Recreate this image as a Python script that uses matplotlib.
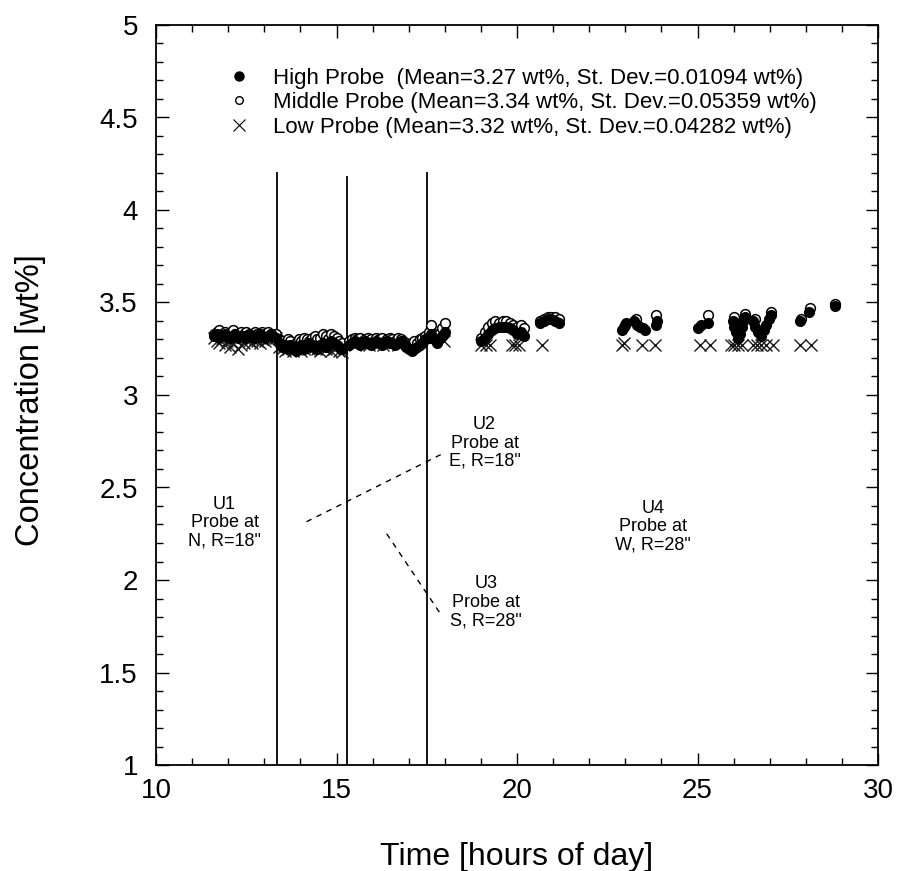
import matplotlib
matplotlib.use("Agg")
import matplotlib.pyplot as plt
from matplotlib.ticker import MultipleLocator
from matplotlib.lines import Line2D

plt.rcParams['font.family'] = ['Liberation Sans', 'DejaVu Sans']

# ---------------- data ----------------
high_t = [11.60, 11.68, 11.75, 11.83, 11.90, 11.98, 12.05, 12.13, 12.20, 12.28, 12.35, 12.43,
          12.50, 12.58, 12.65, 12.73, 12.80, 12.88, 12.95, 13.03, 13.10, 13.18, 13.25, 13.32,
          13.42, 13.50, 13.57, 13.65, 13.72, 13.80, 13.87, 13.95, 14.02, 14.10, 14.17, 14.25,
          14.32, 14.40, 14.47, 14.55, 14.62, 14.70, 14.77, 14.85, 14.92, 15.00, 15.07, 15.15,
          15.35, 15.43, 15.50, 15.58, 15.65, 15.73, 15.80, 15.88, 15.95, 16.03, 16.10, 16.18,
          16.25, 16.33, 16.40, 16.48, 16.55, 16.63, 16.70, 16.78, 16.85, 16.93, 17.00, 17.08,
          17.15, 17.23, 17.30, 17.38, 17.45,
          17.55, 17.62, 17.70, 17.78, 17.85, 17.92, 18.00,
          19.00, 19.10, 19.20, 19.30, 19.40, 19.50, 19.60, 19.70, 19.80, 19.90, 20.00, 20.10, 20.20,
          20.65, 20.75, 20.85, 20.95, 21.05, 21.15,
          22.90, 22.97, 23.03, 23.25, 23.32, 23.40, 23.48, 23.55, 23.85, 23.88,
          25.02, 25.10, 25.30,
          25.97, 26.02, 26.07, 26.12, 26.17, 26.22, 26.27, 26.32,
          26.55, 26.60, 26.67, 26.75, 26.83, 26.90, 26.97, 27.03,
          27.85, 28.10, 28.80]
high_v = [3.32, 3.33, 3.31, 3.32, 3.33, 3.32, 3.31, 3.32, 3.33, 3.31, 3.32, 3.32,
          3.31, 3.33, 3.32, 3.31, 3.32, 3.33, 3.32, 3.31, 3.32, 3.33, 3.32, 3.31,
          3.28, 3.26, 3.27, 3.25, 3.27, 3.26, 3.24, 3.26, 3.27, 3.25, 3.26, 3.28,
          3.27, 3.26, 3.25, 3.27, 3.28, 3.26, 3.27, 3.29, 3.28, 3.27, 3.26, 3.25,
          3.27, 3.28, 3.29, 3.28, 3.27, 3.28, 3.29, 3.28, 3.27, 3.28, 3.29, 3.28,
          3.27, 3.28, 3.29, 3.28, 3.28, 3.27, 3.28, 3.29, 3.28, 3.26, 3.25, 3.24,
          3.25, 3.26, 3.27, 3.28, 3.30,
          3.31, 3.33, 3.30, 3.28, 3.30, 3.32, 3.34,
          3.29, 3.31, 3.33, 3.35, 3.36, 3.37, 3.37, 3.37, 3.36, 3.35, 3.33, 3.34, 3.32,
          3.39, 3.40, 3.41, 3.41, 3.40, 3.39,
          3.35, 3.37, 3.39, 3.40, 3.38, 3.37, 3.36, 3.35, 3.38, 3.40,
          3.36, 3.38, 3.39,
          3.40, 3.37, 3.34, 3.31, 3.33, 3.37, 3.40, 3.42,
          3.40, 3.37, 3.34, 3.32, 3.35, 3.38, 3.41, 3.43,
          3.40, 3.45, 3.48]

mid_t = [11.60, 11.68, 11.75, 11.83, 11.90, 11.98, 12.05, 12.13, 12.20, 12.28, 12.35, 12.43,
         12.50, 12.58, 12.65, 12.73, 12.80, 12.88, 12.95, 13.03, 13.10, 13.18, 13.25, 13.32,
         13.42, 13.50, 13.57, 13.65, 13.72, 13.80, 13.87, 13.95, 14.02, 14.10, 14.17, 14.25,
         14.32, 14.40, 14.47, 14.55, 14.62, 14.70, 14.77, 14.85, 14.92, 15.00, 15.07, 15.15,
         15.35, 15.43, 15.50, 15.58, 15.65, 15.73, 15.80, 15.88, 15.95, 16.03, 16.10, 16.18,
         16.25, 16.33, 16.40, 16.48, 16.55, 16.63, 16.70, 16.78, 16.85, 16.93, 17.00, 17.08,
         17.15, 17.23, 17.30, 17.38, 17.45,
         17.55, 17.62, 17.70, 17.78, 17.85, 17.92, 18.00,
         19.00, 19.10, 19.20, 19.30, 19.40, 19.50, 19.60, 19.70, 19.80, 19.90, 20.00, 20.10, 20.20,
         20.65, 20.75, 20.85, 20.95, 21.05, 21.15,
         23.00, 23.30, 23.85,
         25.30,
         26.00, 26.32, 26.60, 27.03,
         27.88, 28.12, 28.80]
mid_v = [3.33, 3.34, 3.35, 3.33, 3.34, 3.32, 3.33, 3.35, 3.33, 3.32, 3.34, 3.33,
         3.34, 3.32, 3.33, 3.34, 3.33, 3.32, 3.34, 3.33, 3.34, 3.33, 3.32, 3.33,
         3.30, 3.29, 3.28, 3.30, 3.29, 3.27, 3.28, 3.30, 3.29, 3.31, 3.30, 3.29,
         3.31, 3.32, 3.30, 3.31, 3.33, 3.32, 3.30, 3.33, 3.32, 3.31, 3.29, 3.28,
         3.29, 3.30, 3.31, 3.30, 3.31, 3.29, 3.30, 3.31, 3.30, 3.29, 3.31, 3.30,
         3.31, 3.29, 3.30, 3.31, 3.30, 3.29, 3.31, 3.30, 3.29, 3.28, 3.27, 3.28,
         3.29, 3.28, 3.30, 3.31, 3.32,
         3.34, 3.38, 3.33, 3.31, 3.33, 3.36, 3.39,
         3.31, 3.34, 3.37, 3.39, 3.40, 3.39, 3.40, 3.40, 3.39, 3.38, 3.37, 3.38, 3.36,
         3.40, 3.41, 3.42, 3.42, 3.42, 3.41,
         3.38, 3.41, 3.43,
         3.43,
         3.42, 3.44, 3.41, 3.45,
         3.41, 3.47, 3.49]

low_t = [11.60, 11.68, 11.75, 11.83, 11.90, 11.98, 12.05, 12.13, 12.20, 12.28, 12.35, 12.43,
         12.50, 12.58, 12.65, 12.73, 12.80, 12.88, 12.95, 13.03, 13.10, 13.18, 13.25, 13.32,
         13.42, 13.50, 13.57, 13.65, 13.72, 13.80, 13.87, 13.95, 14.02, 14.10, 14.17, 14.25,
         14.32, 14.40, 14.47, 14.55, 14.62, 14.70, 14.77, 14.85, 14.92, 15.00, 15.07, 15.15,
         15.50, 15.90, 16.30, 16.70, 17.10,
         17.60, 17.98,
         19.00, 19.15, 19.25, 19.85, 19.95, 20.05,
         20.68,
         22.92, 22.96, 23.46, 23.82,
         25.07, 25.35,
         25.92, 26.02, 26.12, 26.22, 26.55, 26.65, 26.75, 26.90, 27.08,
         27.85, 28.15]
low_v = [3.31, 3.29, 3.28, 3.30, 3.27, 3.29, 3.26, 3.28, 3.30, 3.25, 3.27, 3.28,
         3.30, 3.29, 3.28, 3.30, 3.29, 3.28, 3.30, 3.29, 3.30, 3.31, 3.30, 3.31,
         3.26, 3.25, 3.24, 3.25, 3.26, 3.24, 3.25, 3.26, 3.24, 3.25, 3.26, 3.25,
         3.27, 3.26, 3.25, 3.24, 3.26, 3.25, 3.27, 3.24, 3.25, 3.26, 3.24, 3.23,
         3.27, 3.27, 3.27, 3.27, 3.27,
         3.29, 3.29,
         3.27, 3.27, 3.27, 3.27, 3.27, 3.27,
         3.27,
         3.27, 3.28, 3.27, 3.27,
         3.27, 3.27,
         3.27, 3.27, 3.27, 3.27, 3.27, 3.27, 3.27, 3.27, 3.27,
         3.27, 3.27]

legend_labels = ["High Probe  (Mean=3.27 wt%, St. Dev.=0.01094 wt%)",
                 "Middle Probe (Mean=3.34 wt%, St. Dev.=0.05359 wt%)",
                 "Low Probe (Mean=3.32 wt%, St. Dev.=0.04282 wt%)"]

unit_changes = [13.35, 15.28, 17.5]
unit_line_tops = [4.2, 4.18, 4.2]

unit_labels = ['U1\nProbe at\nN, R=18"', 'U2\nProbe at\nE, R=18"',
               'U3\nProbe at\nS, R=28"', 'U4\nProbe at\nW, R=28"']
unit_label_x = [11.9, 19.1, 19.15, 23.77]
unit_label_y = [2.31, 2.74, 1.88, 2.29]

leader1_x = [14.17, 17.96]
leader1_y = [2.315, 2.685]
leader3_x = [16.39, 17.87]
leader3_y = [2.25, 1.82]

# ---------------- figure ----------------
fig = plt.figure(figsize=(8.99, 8.71), dpi=100)
ax = fig.add_axes([156/899, 1-765/871, 722/899, 740/871])

ax.plot(low_t, low_v, linestyle='none', marker='x', markersize=8.5,
        markeredgewidth=1.0, color='#1a1a1a', zorder=3)
ax.plot(mid_t, mid_v, linestyle='none', marker='o', markersize=7,
        markerfacecolor='white', markeredgecolor='black', markeredgewidth=1.1, zorder=4)
ax.plot(high_t, high_v, linestyle='none', marker='o', markersize=7,
        markerfacecolor='black', markeredgecolor='black', zorder=5)

for xc, top in zip(unit_changes, unit_line_tops):
    ax.plot([xc, xc], [1, top], color='black', linewidth=1.3, zorder=2)

for lab, lx, ly in zip(unit_labels, unit_label_x, unit_label_y):
    ax.text(lx, ly, lab, ha='center', va='center', fontsize=13, linespacing=1.1)

ax.plot(leader1_x, leader1_y, color='black', linestyle=(0, (4, 4)), linewidth=1.0)
ax.plot(leader3_x, leader3_y, color='black', linestyle=(0, (4, 4)), linewidth=1.0)

handles = [Line2D([], [], linestyle='none', marker='o', markersize=6.5, color='black'),
           Line2D([], [], linestyle='none', marker='o', markersize=5.5, markerfacecolor='white',
                  markeredgecolor='black'),
           Line2D([], [], linestyle='none', marker='x', markersize=9, color='black',
                  markeredgewidth=0.8)]
leg = ax.legend(handles, legend_labels, loc='upper center', bbox_to_anchor=(0.506, 0.957),
                frameon=False, fontsize=16, handlelength=1.2, handletextpad=0.9,
                labelspacing=0.15, borderpad=0)

ax.set_xlim(10, 30)
ax.set_ylim(1, 5)
ax.xaxis.set_major_locator(MultipleLocator(5))
ax.xaxis.set_minor_locator(MultipleLocator(1))
ax.yaxis.set_major_locator(MultipleLocator(0.5))
ax.yaxis.set_minor_locator(MultipleLocator(0.1))
ax.tick_params(which='both', direction='in', top=True, right=True, width=1.0)
ax.tick_params(which='major', length=9, labelsize=20)
ax.tick_params(which='minor', length=5)
ax.tick_params(axis='y', which='major', pad=13)
ax.tick_params(axis='x', which='major', pad=9)
ax.yaxis.set_major_formatter(plt.FuncFormatter(lambda v, p: f"{v:g}"))
for s in ax.spines.values():
    s.set_linewidth(1.3)

ax.set_xlabel('Time [hours of day]', fontsize=23)
ax.set_ylabel('Concentration [wt%]', fontsize=23.5)
ax.xaxis.set_label_coords(0.5, -(842 - 765) / 740)
ax.yaxis.set_label_coords((46 - 156) / 722, 0.493)

fig.savefig('out.png', dpi=100)
